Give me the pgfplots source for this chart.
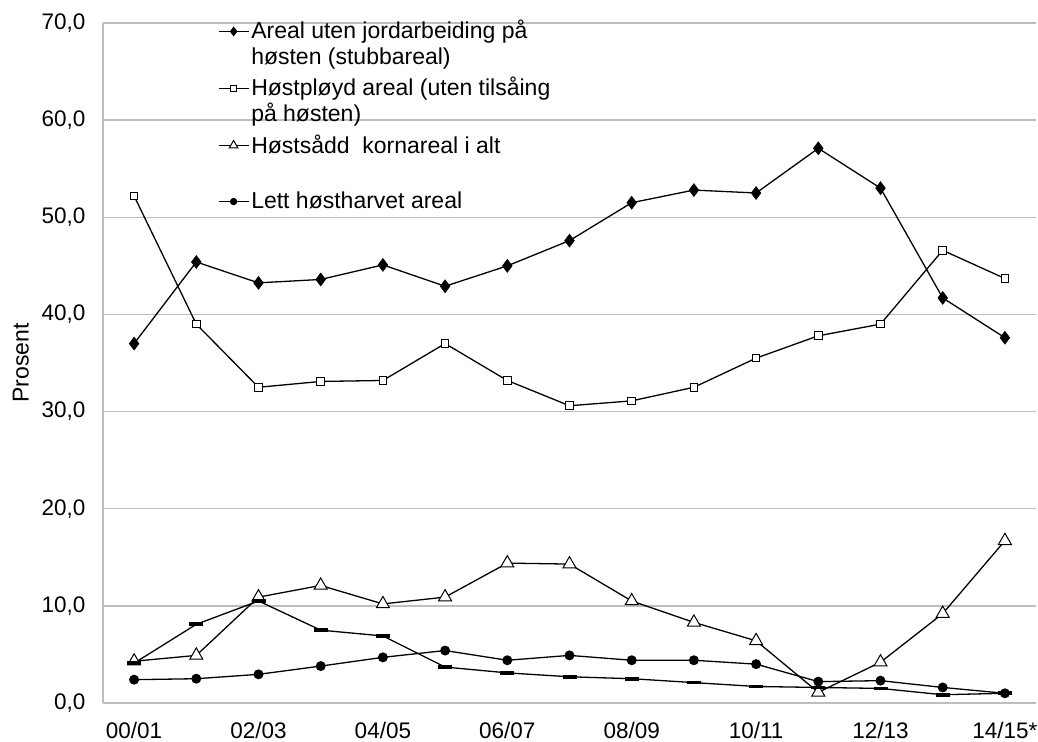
\documentclass[border=0pt]{standalone}
\usepackage{pgfplots}
\pgfplotsset{compat=1.18}
\usepackage{fontspec}
\setmainfont{Liberation Sans}
\definecolor{gridgray}{RGB}{190,190,190}
\begin{document}
\begin{tikzpicture}
\begin{axis}[
  scale only axis, width=933bp, height=680bp,
  xmin=-0.5, xmax=14.5, ymin=0, ymax=70,
  xtick={0,2,...,14},
  xticklabels={00/01,02/03,04/05,06/07,08/09,10/11,12/13,14/15*},
  ytick={0,10,...,70},
  ymajorgrids, grid style={gridgray, line width=1.3bp},
  axis x line*=bottom, axis y line*=left,
  axis line style={gridgray, line width=1.3bp, -},
  major tick length=0pt,
  /pgf/number format/assume math mode=true,
  yticklabel style={xshift=-14bp, /pgf/number format/fixed, /pgf/number format/fixed zerofill, /pgf/number format/precision=1, /pgf/number format/use comma},
  tick label style={font=\fontsize{22.5bp}{26bp}\selectfont},
  xticklabel style={yshift=-16bp},
  ylabel={Prosent},
  ylabel style={font=\fontsize{23bp}{26bp}\selectfont, at={(axis description cs:-0.088,0.5)}, anchor=center},
  legend cell align=left,
  legend style={draw=none, fill=none, at={(axis description cs:0.123,1.007)}, anchor=north west,
    inner sep=0pt, row sep=7bp,
    font=\fontsize{23bp}{26bp}\selectfont, cells={align=left}},
  legend image code/.code={\draw[mark repeat=2,mark phase=2] plot coordinates {(0bp,12bp) (15bp,12bp) (30bp,12bp)};},
  every axis plot/.append style={black, line width=1.3bp},
]
\addplot[mark=diamond*, mark size=6.5bp, mark options={fill=black, line width=0.5bp},
  legend image post style={mark size=4.5bp}] coordinates {
(0,37.0) (1,45.4) (2,43.25) (3,43.6) (4,45.1) (5,42.9) (6,45.0) (7,47.6) (8,51.5) (9,52.8) (10,52.5) (11,57.1) (12,53.0) (13,41.7) (14,37.6)};
\addlegendentry{Areal uten jordarbeiding på\\høsten (stubbareal)}
\addplot[mark=square*, mark size=3.8bp, mark options={fill=white, line width=1bp},
  legend image post style={mark size=2.8bp}] coordinates {
(0,52.2) (1,39.0) (2,32.5) (3,33.1) (4,33.2) (5,37.0) (6,33.2) (7,30.6) (8,31.1) (9,32.5) (10,35.5) (11,37.8) (12,39.0) (13,46.6) (14,43.7)};
\addlegendentry{Høstpløyd areal (uten tilsåing\\på høsten)}
\addplot[mark=triangle*, mark size=7.5bp, mark options={fill=white, line width=1bp},
  legend image post style={mark size=5bp}] coordinates {
(0,4.3) (1,4.9) (2,10.9) (3,12.1) (4,10.2) (5,10.9) (6,14.4) (7,14.3) (8,10.5) (9,8.3) (10,6.4) (11,1.1) (12,4.2) (13,9.2) (14,16.7)};
\addlegendentry{Høstsådd\ \ kornareal i alt\\\strut}
\addplot[mark=*, mark size=4.3bp, mark options={fill=black},
  legend image post style={mark size=3bp}] coordinates {
(0,2.4) (1,2.5) (2,2.95) (3,3.8) (4,4.7) (5,5.4) (6,4.4) (7,4.9) (8,4.4) (9,4.4) (10,4.0) (11,2.2) (12,2.3) (13,1.6) (14,1.0)};
\addlegendentry{Lett høstharvet areal\\\strut}
\addplot[mark=-, mark size=7bp, mark options={line width=3.8bp}, forget plot] coordinates {
(0,4.1) (1,8.1) (2,10.5) (3,7.5) (4,6.9) (5,3.7) (6,3.1) (7,2.7) (8,2.5) (9,2.1) (10,1.7) (11,1.6) (12,1.5) (13,0.85) (14,1.0)};
\end{axis}
\pgfresetboundingbox
\path (-103bp,-39bp) rectangle (935bp,703bp);
\end{tikzpicture}
\end{document}
